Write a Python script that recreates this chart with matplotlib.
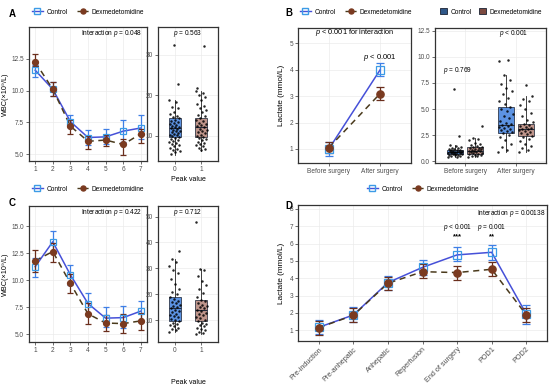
import matplotlib
matplotlib.use("Agg")
import matplotlib.pyplot as plt
from matplotlib.lines import Line2D
from matplotlib.patches import Patch

# ---------------- data ----------------
timepoints = [1, 2, 3, 4, 5, 6, 7]

A_ctrl_mean = [11.6, 10.1, 7.55, 6.3, 6.35, 6.8, 7.05]
A_ctrl_lo = [11.1, 9.6, 7.1, 5.7, 5.8, 5.95, 6.2]
A_ctrl_hi = [12.0, 10.7, 8.1, 6.9, 6.95, 7.7, 8.1]
A_dex_mean = [12.25, 10.1, 7.2, 6.0, 6.1, 5.75, 6.6]
A_dex_lo = [11.9, 9.6, 6.6, 5.4, 5.6, 4.95, 5.9]
A_dex_hi = [12.85, 10.7, 7.65, 6.4, 6.5, 6.2, 7.0]

C_ctrl_mean = [11.25, 13.55, 10.5, 7.85, 6.5, 6.55, 7.15]
C_ctrl_lo = [10.3, 12.5, 9.6, 6.9, 5.65, 5.6, 6.1]
C_ctrl_hi = [12.05, 14.5, 11.4, 8.85, 7.5, 7.6, 8.1]
C_dex_mean = [11.8, 12.65, 9.7, 6.9, 6.05, 6.0, 6.25]
C_dex_lo = [10.8, 11.7, 8.8, 6.0, 5.3, 5.1, 5.4]
C_dex_hi = [12.8, 13.4, 10.6, 7.9, 6.8, 6.9, 7.0]

B_periods = ["Before surgery", "After surgery"]
B_ctrl_mean = [1.0, 4.0]
B_ctrl_lo = [0.75, 3.75]
B_ctrl_hi = [1.25, 4.25]
B_dex_mean = [1.05, 3.1]
B_dex_lo = [0.85, 2.85]
B_dex_hi = [1.25, 3.35]

D_phases = ["Pre-induction", "Pre-anhepatic", "Anhepatic", "Reperfusion",
            "End of surgery", "POD1", "POD2"]
D_ctrl_mean = [1.17, 1.88, 3.75, 4.63, 5.35, 5.5, 1.94]
D_ctrl_lo = [0.78, 1.5, 3.35, 4.2, 4.98, 5.05, 1.37]
D_ctrl_hi = [1.58, 2.33, 4.15, 5.08, 5.8, 5.92, 2.47]
D_dex_mean = [1.15, 1.86, 3.71, 4.38, 4.33, 4.52, 1.89]
D_dex_lo = [0.75, 1.5, 3.3, 4.0, 3.9, 4.13, 1.5]
D_dex_hi = [1.55, 2.3, 4.1, 4.8, 4.72, 4.95, 2.3]

# box stats: [whislo, q1, median, q3, whishi]
A_box_ctrl = [5.3, 9.8, 11.9, 14.3, 18.9]
A_box_dex = [6.3, 9.8, 12.1, 14.4, 21.0]
A_pts_ctrl = [18.9, 18.4, 17.2, 16.8, 16.0, 15.4, 15.0, 14.6, 14.3, 14.0, 13.7, 13.5,
              13.2, 13.0, 12.8, 12.5, 12.3, 12.1, 11.9, 11.7, 11.5, 11.3, 11.1, 10.9,
              10.7, 10.5, 10.3, 10.1, 9.9, 9.7, 9.5, 9.2, 9.0, 8.7, 8.5, 8.2, 8.0, 7.7,
              7.4, 7.1, 6.8, 6.5, 6.2, 5.9, 5.5, 22.8, 32.5]
A_pts_dex = [21.0, 20.6, 20.2, 19.5, 18.8, 18.0, 17.5, 17.0, 16.4, 15.8, 15.2, 14.8,
             14.4, 14.0, 13.6, 13.3, 13.0, 12.7, 12.4, 12.1, 11.8, 11.5, 11.2, 10.9,
             10.6, 10.3, 10.0, 9.8, 9.5, 9.2, 8.9, 8.6, 8.3, 8.0, 7.7, 7.4, 7.1, 6.8,
             6.5, 21.8, 32.3]

B_box_before_ctrl = [0.4, 0.7, 0.9, 1.1, 1.6]
B_box_before_dex = [0.45, 0.7, 1.0, 1.35, 2.2]
B_box_after_ctrl = [0.9, 2.7, 3.5, 5.2, 8.3]
B_box_after_dex = [0.9, 2.45, 3.1, 3.6, 6.3]
B_pts_before_ctrl = [0.4, 0.45, 0.5, 0.55, 0.6, 0.62, 0.65, 0.68, 0.7, 0.72, 0.75, 0.78,
                     0.8, 0.82, 0.85, 0.88, 0.9, 0.92, 0.95, 0.98, 1.0, 1.02, 1.05, 1.08,
                     1.1, 1.15, 1.2, 1.25, 1.3, 1.4, 1.5, 1.6, 2.4, 6.9]
B_pts_before_dex = [0.45, 0.5, 0.55, 0.6, 0.65, 0.68, 0.7, 0.75, 0.8, 0.85, 0.9, 0.95,
                    1.0, 1.02, 1.05, 1.1, 1.15, 1.2, 1.25, 1.3, 1.35, 1.4, 1.5, 1.6,
                    1.7, 1.8, 2.0, 2.1, 2.2, 3.4]
B_pts_after_ctrl = [0.9, 1.1, 1.4, 1.7, 2.0, 2.3, 2.5, 2.7, 2.8, 2.9, 3.0, 3.1, 3.2,
                    3.3, 3.4, 3.5, 3.6, 3.7, 3.9, 4.1, 4.3, 4.5, 4.8, 5.0, 5.2, 5.5,
                    5.8, 6.1, 6.4, 6.7, 7.0, 7.4, 7.8, 8.3, 9.6, 9.7]
B_pts_after_dex = [0.9, 1.1, 1.3, 1.5, 1.7, 1.9, 2.1, 2.3, 2.45, 2.6, 2.7, 2.8, 2.9,
                   3.0, 3.05, 3.1, 3.2, 3.3, 3.4, 3.5, 3.6, 3.8, 4.0, 4.3, 4.6, 5.0,
                   5.4, 5.8, 6.0, 6.3, 7.3]

C_box_ctrl = [5.5, 9.6, 14.5, 19.0, 33.5]
C_box_dex = [4.5, 9.8, 13.9, 17.9, 29.8]
C_pts_ctrl = [5.5, 6.0, 6.5, 7.0, 7.5, 8.0, 8.5, 9.0, 9.6, 10.0, 10.5, 11.0, 11.5,
              12.0, 12.5, 13.0, 13.5, 14.0, 14.5, 15.0, 15.5, 16.0, 16.5, 17.0, 17.5,
              18.0, 19.0, 20.0, 21.0, 22.0, 24.0, 26.0, 28.0, 29.5, 31.0, 32.5, 33.5,
              36.8]
C_pts_dex = [4.5, 5.0, 5.5, 6.0, 6.5, 7.0, 7.5, 8.0, 8.5, 9.0, 9.8, 10.2, 10.7, 11.2,
             11.8, 12.3, 12.8, 13.4, 13.9, 14.5, 15.0, 15.5, 16.0, 16.6, 17.2, 17.9,
             19.0, 20.5, 22.0, 23.5, 25.0, 27.0, 29.5, 29.8, 47.9]

# ---------------- styling ----------------
plt.rcParams["font.family"] = ["Liberation Sans", "DejaVu Sans"]
plt.rcParams["mathtext.fontset"] = "custom"
plt.rcParams["mathtext.rm"] = "Liberation Sans"
plt.rcParams["mathtext.it"] = "Liberation Sans:italic"

W, H = 550, 388
fig = plt.figure(figsize=(5.5, 3.88), dpi=100)
fig.patch.set_facecolor("white")

CTRL_LINE = "#4650d8"
CTRL_MK = "#3c9be6"
CTRL_ERR = "#3f7fe6"
DEX_LINE = "#4a3a1c"
DEX_MK = "#7a3a20"
DEX_ERR = "#6a2e1c"
CTRL_BOX = "#4a87df"
DEX_BOX = "#b88a7e"
TICK_C = "#4d4d4d"
GRID_C = "#ebebeb"
TFS = 4.7
AFS = 4.7
LFS = 4.7
XLFS = 5.2


def ax_px(l, t, r, b):
    ax = fig.add_axes([l / W, 1 - b / H, (r - l) / W, (b - t) / H])
    ax.set_facecolor("white")
    for s in ax.spines.values():
        s.set_color("#333333")
        s.set_linewidth(0.9)
    ax.grid(True, color=GRID_C, linewidth=0.5)
    ax.set_axisbelow(True)
    ax.tick_params(labelsize=TFS, colors="#333333", labelcolor=TICK_C, length=2,
                   width=0.5, pad=1.5)
    return ax


def line_panel(ax, x, cm, clo, chi, dm, dlo, dhi, ms=5, cap=2):
    ax.plot(x, cm, color=CTRL_LINE, lw=1.1, zorder=3)
    ax.plot(x, dm, color=DEX_LINE, lw=1.1, ls=(0, (4, 3)), zorder=3)
    ax.errorbar(x, cm, yerr=[[m - l for m, l in zip(cm, clo)], [h - m for m, h in zip(cm, chi)]],
                fmt="none", ecolor=CTRL_ERR, elinewidth=0.9, capsize=cap, capthick=0.9, zorder=4)
    ax.errorbar(x, dm, yerr=[[m - l for m, l in zip(dm, dlo)], [h - m for m, h in zip(dm, dhi)]],
                fmt="none", ecolor=DEX_ERR, elinewidth=0.9, capsize=cap, capthick=0.9, zorder=4)
    ax.plot(x, cm, ls="none", marker="s", ms=ms, mfc="none", mec=CTRL_MK, mew=0.9, zorder=5)
    ax.plot(x, dm, ls="none", marker="o", ms=ms - 0.8, mfc=DEX_MK, mec=DEX_MK, zorder=5)


def jitter(n, width):
    return [((i * 0.6180339887) % 1.0 - 0.5) * width for i in range(n)]


def box_panel(ax, positions, stats_list, pts_list, colors, width):
    stats = []
    for st in stats_list:
        stats.append(dict(whislo=st[0], q1=st[1], med=st[2], q3=st[3], whishi=st[4], fliers=[]))
    bp = ax.bxp(stats, positions=positions, widths=width, patch_artist=True,
                showfliers=False, showcaps=False,
                boxprops=dict(linewidth=0.6, edgecolor="#222a3a"),
                medianprops=dict(color="#222a3a", linewidth=0.8),
                whiskerprops=dict(color="#222222", linewidth=0.6))
    for patch, c in zip(bp["boxes"], colors):
        patch.set_facecolor(c)
        patch.set_alpha(0.9)
    for p, pts in zip(positions, pts_list):
        js = jitter(len(pts), width * 0.9)
        ax.scatter([p + j for j in js], pts, s=3.2, color="black", alpha=0.85,
                   linewidths=0, zorder=5)


def legend_line(x, y):
    h = [Line2D([], [], color=CTRL_LINE, marker="s", mfc="none", mec=CTRL_MK, ms=4, lw=1.0),
         Line2D([], [], color=DEX_LINE, marker="o", mfc=DEX_MK, mec=DEX_MK, ms=3.6, lw=1.0,
                ls=(0, (3, 2)))]
    fig.legend(h, ["Control", "Dexmedetomidine"], loc="center", bbox_to_anchor=(x / W, 1 - y / H),
               ncol=2, frameon=False, fontsize=LFS, handlelength=1.8, columnspacing=1.4,
               handletextpad=0.5)


# ---------------- Panel A ----------------
axA = ax_px(29, 27, 147, 161)
line_panel(axA, timepoints, A_ctrl_mean, A_ctrl_lo, A_ctrl_hi, A_dex_mean, A_dex_lo, A_dex_hi)
axA.set_xlim(0.65, 7.35)
axA.set_ylim(4.45, 15.0)
axA.set_xticks(timepoints)
axA.set_yticks([5.0, 7.5, 10.0, 12.5])
axA.set_yticklabels(["5.0", "7.5", "10.0", "12.5"])
axA.set_ylabel("WBC(×10⁹/L)", fontsize=5.2, labelpad=2)
axA.text(0.96, 0.955, "Interaction $p$ = 0.048", transform=axA.transAxes, ha="right",
         va="center", fontsize=AFS)

axAb = ax_px(158, 27, 218, 161)
box_panel(axAb, [0, 1], [A_box_ctrl, A_box_dex], [A_pts_ctrl, A_pts_dex],
          [CTRL_BOX, DEX_BOX], 0.45)
axAb.set_xlim(-0.62, 1.62)
axAb.set_ylim(3.8, 36.9)
axAb.set_xticks([0, 1])
axAb.set_yticks([10, 20, 30])
axAb.set_xlabel("Peak value", fontsize=5.0, labelpad=2.5)
axAb.text(0.5, 0.955, "$p$ = 0.563", transform=axAb.transAxes, ha="center", va="center",
          fontsize=AFS)
legend_line(88, 12)

# ---------------- Panel B ----------------
axB = ax_px(298, 28, 411, 163)
line_panel(axB, [1, 2], B_ctrl_mean, B_ctrl_lo, B_ctrl_hi, B_dex_mean, B_dex_lo, B_dex_hi,
           ms=6, cap=3)
axB.set_xlim(0.4, 2.6)
axB.set_ylim(0.47, 5.58)
axB.set_xticks([1, 2])
axB.set_xticklabels(B_periods)
axB.set_yticks([1, 2, 3, 4, 5])
axB.set_ylabel("Lactate (mmol/L)", fontsize=5.9, labelpad=3)
axB.text(0.5, 0.963, "$p$ < 0.001 for interaction", transform=axB.transAxes, ha="center",
         va="center", fontsize=5.3)
axB.text(2, 4.48, "$p$ < 0.001", ha="center", va="center", fontsize=5.5)
legend_line(356, 12)

axBb = ax_px(435, 28, 546, 163)
off = 0.2
box_panel(axBb, [1 - off, 1 + off, 2 - off, 2 + off],
          [B_box_before_ctrl, B_box_before_dex, B_box_after_ctrl, B_box_after_dex],
          [B_pts_before_ctrl, B_pts_before_dex, B_pts_after_ctrl, B_pts_after_dex],
          [CTRL_BOX, DEX_BOX, CTRL_BOX, DEX_BOX], 0.32)
axBb.set_xlim(0.4, 2.6)
axBb.set_ylim(-0.16, 12.76)
axBb.set_xticks([1, 2])
axBb.set_xticklabels(B_periods)
axBb.set_yticks([0, 2.5, 5.0, 7.5, 10.0, 12.5])
axBb.set_yticklabels(["0.0", "2.5", "5.0", "7.5", "10.0", "12.5"])
axBb.text(0.85, 8.67, "$p$ = 0.769", ha="center", va="center", fontsize=AFS)
axBb.text(1.95, 12.2, "$p$ < 0.001", ha="center", va="center", fontsize=AFS)
hb = [Patch(facecolor="#2f5788", edgecolor="#1a2233", linewidth=0.6),
      Patch(facecolor="#7b4a40", edgecolor="#1a2233", linewidth=0.6)]
fig.legend(hb, ["Control", "Dexmedetomidine"], loc="center", bbox_to_anchor=(491 / W, 1 - 12 / H),
           ncol=2, frameon=False, fontsize=LFS, handlelength=1.0, handleheight=1.0,
           columnspacing=1.2, handletextpad=0.5)

# ---------------- Panel C ----------------
axC = ax_px(29, 206, 147, 342)
line_panel(axC, timepoints, C_ctrl_mean, C_ctrl_lo, C_ctrl_hi, C_dex_mean, C_dex_lo, C_dex_hi)
axC.set_xlim(0.65, 7.35)
axC.set_ylim(4.3, 16.85)
axC.set_xticks(timepoints)
axC.set_yticks([5.0, 7.5, 10.0, 12.5, 15.0])
axC.set_yticklabels(["5.0", "7.5", "10.0", "12.5", "15.0"])
axC.set_ylabel("WBC(×10⁹/L)", fontsize=5.2, labelpad=2)
axC.text(0.96, 0.95, "Interaction $p$ = 0.422", transform=axC.transAxes, ha="right",
         va="center", fontsize=AFS)

axCb = ax_px(158, 206, 218, 342)
box_panel(axCb, [0, 1], [C_box_ctrl, C_box_dex], [C_pts_ctrl, C_pts_dex],
          [CTRL_BOX, DEX_BOX], 0.45)
axCb.set_xlim(-0.62, 1.62)
axCb.set_ylim(1.5, 54.1)
axCb.set_xticks([0, 1])
axCb.set_yticks([10, 20, 30, 40, 50])
axCb.text(0.5, 0.95, "$p$ = 0.712", transform=axCb.transAxes, ha="center", va="center",
          fontsize=AFS)
fig.text(188 / W, 1 - 382 / H, "Peak value", ha="center", va="center", fontsize=5.0)
legend_line(88, 189)

# ---------------- Panel D ----------------
axD = ax_px(298, 205, 547, 341)
xD = list(range(1, len(D_phases) + 1))
line_panel(axD, xD, D_ctrl_mean, D_ctrl_lo, D_ctrl_hi, D_dex_mean, D_dex_lo, D_dex_hi,
           ms=6, cap=3)
axD.set_xlim(0.4, 7.6)
axD.set_ylim(0.38, 8.23)
axD.set_xticks(xD)
axD.set_xticklabels(D_phases, rotation=45, ha="right", rotation_mode="anchor", fontsize=XLFS)
axD.set_yticks([1, 2, 3, 4, 5, 6, 7, 8])
axD.set_ylabel("Lactate (mmol/L)", fontsize=5.9, labelpad=3)
axD.text(0.995, 0.934, "Interaction $p$ = 0.00138", transform=axD.transAxes, ha="right",
         va="center", fontsize=AFS)
axD.text(5, 6.95, "$p$ < 0.001", ha="center", va="center", fontsize=AFS)
axD.text(5, 6.4, "***", ha="center", va="center", fontsize=5.5, fontweight="bold")
axD.text(6, 6.95, "$p$ = 0.001", ha="center", va="center", fontsize=AFS)
axD.text(6, 6.4, "**", ha="center", va="center", fontsize=5.5, fontweight="bold")
legend_line(423, 189)

# panel labels
for lab, (x, y) in {"A": (12, 14), "B": (289, 13), "C": (12, 203), "D": (289, 206)}.items():
    fig.text(x / W, 1 - y / H, lab, ha="center", va="center", fontsize=7, fontweight="bold")

fig.savefig("out.png", dpi=100)
